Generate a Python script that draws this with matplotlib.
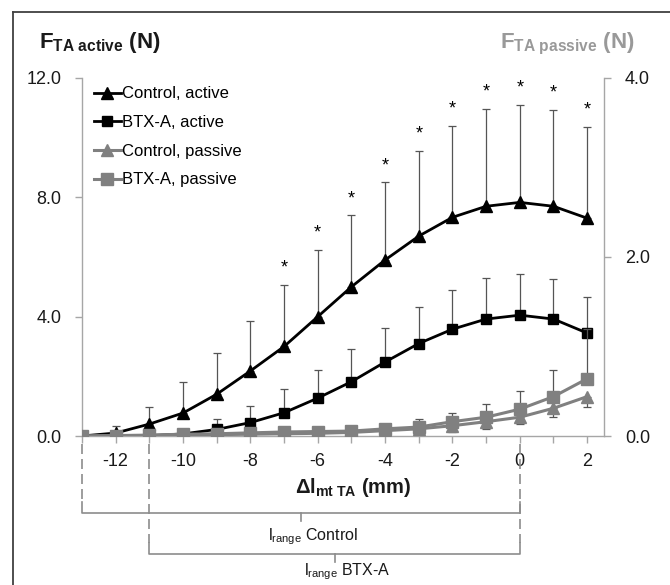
import matplotlib
matplotlib.use("Agg")
import matplotlib.pyplot as plt
import matplotlib.transforms as mtransforms
from matplotlib.lines import Line2D
from matplotlib.ticker import FormatStrFormatter, MultipleLocator
import numpy as np

plt.rcParams['font.family'] = ['Liberation Sans', 'DejaVu Sans']
plt.rcParams['mathtext.fontset'] = 'custom'
plt.rcParams['mathtext.rm'] = 'Liberation Sans'
plt.rcParams['mathtext.bf'] = 'Liberation Sans:bold'
plt.rcParams['mathtext.it'] = 'Liberation Sans:italic'
plt.rcParams['axes.unicode_minus'] = False

# muscle-tendon length change (mm)
dl = [-13, -12, -11, -10, -9, -8, -7, -6, -5, -4, -3, -2, -1, 0, 1, 2]

# active force (N), left axis
ctrl_active = [0, 0.1, 0.4, 0.77, 1.4, 2.18, 3.0, 4.0, 5.0, 5.9, 6.7, 7.33, 7.7, 7.83, 7.7, 7.3]
ctrl_active_sd = [0, 0.22, 0.57, 1.03, 1.38, 1.68, 2.06, 2.23, 2.4, 2.6, 2.85, 3.07, 3.26, 3.27, 3.23, 3.07]
btx_active = [0, 0, 0.01, 0.07, 0.22, 0.45, 0.78, 1.27, 1.82, 2.48, 3.1, 3.58, 3.92, 4.05, 3.92, 3.45]
btx_active_sd = [0, 0, 0.02, 0.12, 0.35, 0.55, 0.79, 0.93, 1.1, 1.14, 1.22, 1.32, 1.38, 1.38, 1.34, 1.21]

# passive force (N), right axis
ctrl_passive = [0, 0.003, 0.006, 0.01, 0.015, 0.02, 0.025, 0.03, 0.04, 0.06, 0.08, 0.115, 0.16, 0.21, 0.31, 0.44]
ctrl_passive_sd = [0, 0, 0, 0, 0, 0.005, 0.01, 0.01, 0.02, 0.03, 0.05, 0.07, 0.08, 0.08, 0.1, 0.12]
btx_passive = [0, 0.005, 0.01, 0.02, 0.025, 0.035, 0.045, 0.05, 0.055, 0.08, 0.1, 0.16, 0.21, 0.3, 0.44, 0.64]
btx_passive_sd = [0, 0, 0, 0.01, 0.01, 0.01, 0.015, 0.02, 0.03, 0.045, 0.09, 0.1, 0.15, 0.2, 0.3, 0.55]

# significant difference (control vs BTX-A, active)
signif = [-7, -6, -5, -4, -3, -2, -1, 0, 1, 2]

# length ranges
range_ctrl = (-13, 0)
range_btx = (-11, 0)

GRAY = '#808080'
AXGRAY = '#a6a6a6'
ERRGRAY = '#555555'

fig = plt.figure(figsize=(6.7, 5.85), dpi=100)
ax = fig.add_axes([0.1224, 0.2547, 0.7791, 0.612])
ax2 = ax.twinx()

zeros = np.zeros(len(dl))

# active series (left axis)
ax.errorbar(dl, ctrl_active, yerr=[zeros, ctrl_active_sd], fmt='none', ecolor=ERRGRAY,
            elinewidth=0.9, capsize=3, capthick=0.9, zorder=2)
ax.errorbar(dl, btx_active, yerr=[zeros, btx_active_sd], fmt='none', ecolor=ERRGRAY,
            elinewidth=0.9, capsize=3, capthick=0.9, zorder=2)
ax.plot(dl, ctrl_active, color='black', lw=2, marker='^', ms=8, label='Control, active', zorder=3)
ax.plot(dl, btx_active, color='black', lw=2, marker='s', ms=7, label='BTX-A, active', zorder=3)

for x in signif:
    i = dl.index(x)
    ax.annotate('*', xy=(x, ctrl_active[i] + ctrl_active_sd[i]), xytext=(0, 12),
                textcoords='offset points', ha='center', va='center', fontsize=13)

# passive series (right axis)
ax2.errorbar(dl, ctrl_passive, yerr=[ctrl_passive_sd, zeros], fmt='none', ecolor=ERRGRAY,
             elinewidth=0.9, capsize=3, capthick=0.9, zorder=2)
ax2.errorbar(dl, btx_passive, yerr=[zeros, btx_passive_sd], fmt='none', ecolor=ERRGRAY,
             elinewidth=0.9, capsize=3, capthick=0.9, zorder=2)
ax2.plot(dl, ctrl_passive, color=GRAY, lw=2.2, marker='^', ms=8, label='Control, passive', zorder=3)
ax2.plot(dl, btx_passive, color=GRAY, lw=2.2, marker='s', ms=8, label='BTX-A, passive', zorder=3)

ax.set_xlim(-13, 2.5)
ax.set_ylim(0, 12)
ax2.set_ylim(0, 4)
ax.set_yticks([0, 4, 8, 12])
ax2.set_yticks([0, 2, 4])
ax.yaxis.set_major_formatter(FormatStrFormatter('%.1f'))
ax2.yaxis.set_major_formatter(FormatStrFormatter('%.1f'))
ax.set_xticks([-12, -10, -8, -6, -4, -2, 0, 2])
ax.xaxis.set_minor_locator(MultipleLocator(1))

for a in (ax, ax2):
    for s in a.spines.values():
        s.set_visible(False)
ax.spines['left'].set_visible(True)
ax.spines['bottom'].set_visible(True)
ax2.spines['right'].set_visible(True)
for s in (ax.spines['left'], ax.spines['bottom'], ax2.spines['right']):
    s.set_color(AXGRAY)
    s.set_linewidth(1)

ax.tick_params(axis='both', which='both', colors=AXGRAY, labelcolor='#1a1a1a', labelsize=13,
               length=5, width=1)
ax.tick_params(axis='x', which='minor', length=5)
ax.tick_params(axis='x', pad=7)
ax.tick_params(axis='y', pad=10)
ax2.tick_params(axis='y', colors=AXGRAY, labelcolor='#1a1a1a', labelsize=13, length=5, width=1, pad=10)

# legend combining both axes
h1, l1 = ax.get_legend_handles_labels()
h2, l2 = ax2.get_legend_handles_labels()
leg = ax2.legend(h1 + h2, l1 + l2, loc='upper left', bbox_to_anchor=(0.01, 0.995), frameon=False,
                 fontsize=12, handlelength=1.6, handletextpad=0.1, labelspacing=0.82, borderaxespad=0)

# axis titles
fig.text(0.058, 0.918, r'$\mathbf{F_{TA\ active}}$ (N)', fontsize=16, fontweight='bold',
         color='#1a1a1a', va='baseline')
fig.text(0.947, 0.918, r'$\mathbf{F_{TA\ passive}}$ (N)', fontsize=16, fontweight='bold',
         color='#999999', va='baseline', ha='right')
ax.text(0.52, -0.158, r'$\mathbf{\Delta l_{mt\ TA}}$ (mm)', transform=ax.transAxes, fontsize=14.5,
        fontweight='bold', ha='center', va='baseline', color='#1a1a1a')

# length-range brackets below the axis
tr = mtransforms.blended_transform_factory(ax.transData, ax.transAxes)
LCOL = '#8c8c8c'
y_top = -0.022
y_b1 = -0.215
y_b2 = -0.33
dash = dict(color=LCOL, lw=1.2, ls=(0, (6, 3)), transform=tr, clip_on=False)
solid = dict(color=LCOL, lw=1.2, transform=tr, clip_on=False)

ax.plot([range_ctrl[0]] * 2, [y_top, y_b1 + 0.03], **dash)
ax.plot([range_btx[0]] * 2, [y_top, y_b2 + 0.03], **dash)
ax.plot([range_ctrl[1]] * 2, [y_top, y_b2 + 0.03], **dash)

for (x0, x1), yb, lab, dy in ((range_ctrl, y_b1, r'$\mathrm{l_{range}}$ Control', -10),
                              (range_btx, y_b2, r'$\mathrm{l_{range}}$ BTX-A', -5)):
    xm = (x0 + x1) / 2
    ax.plot([x0, x0, x1, x1], [yb + 0.03, yb, yb, yb + 0.03], **solid)
    ax.plot([xm, xm], [yb, yb - 0.022], **solid)
    ax.annotate(lab, xy=(xm, yb), xycoords=tr, xytext=(9, dy), textcoords='offset points',
                ha='center', va='top', fontsize=11.5, color='#1a1a1a', annotation_clip=False)

# frame lines (top and left)
fig.add_artist(Line2D([0.0194, 1.0], [0.9795, 0.9795], color='#404040', lw=1.3))
fig.add_artist(Line2D([0.0194, 0.0194], [0.0, 0.9795], color='#404040', lw=1.3))

fig.savefig('out.png', dpi=100)
